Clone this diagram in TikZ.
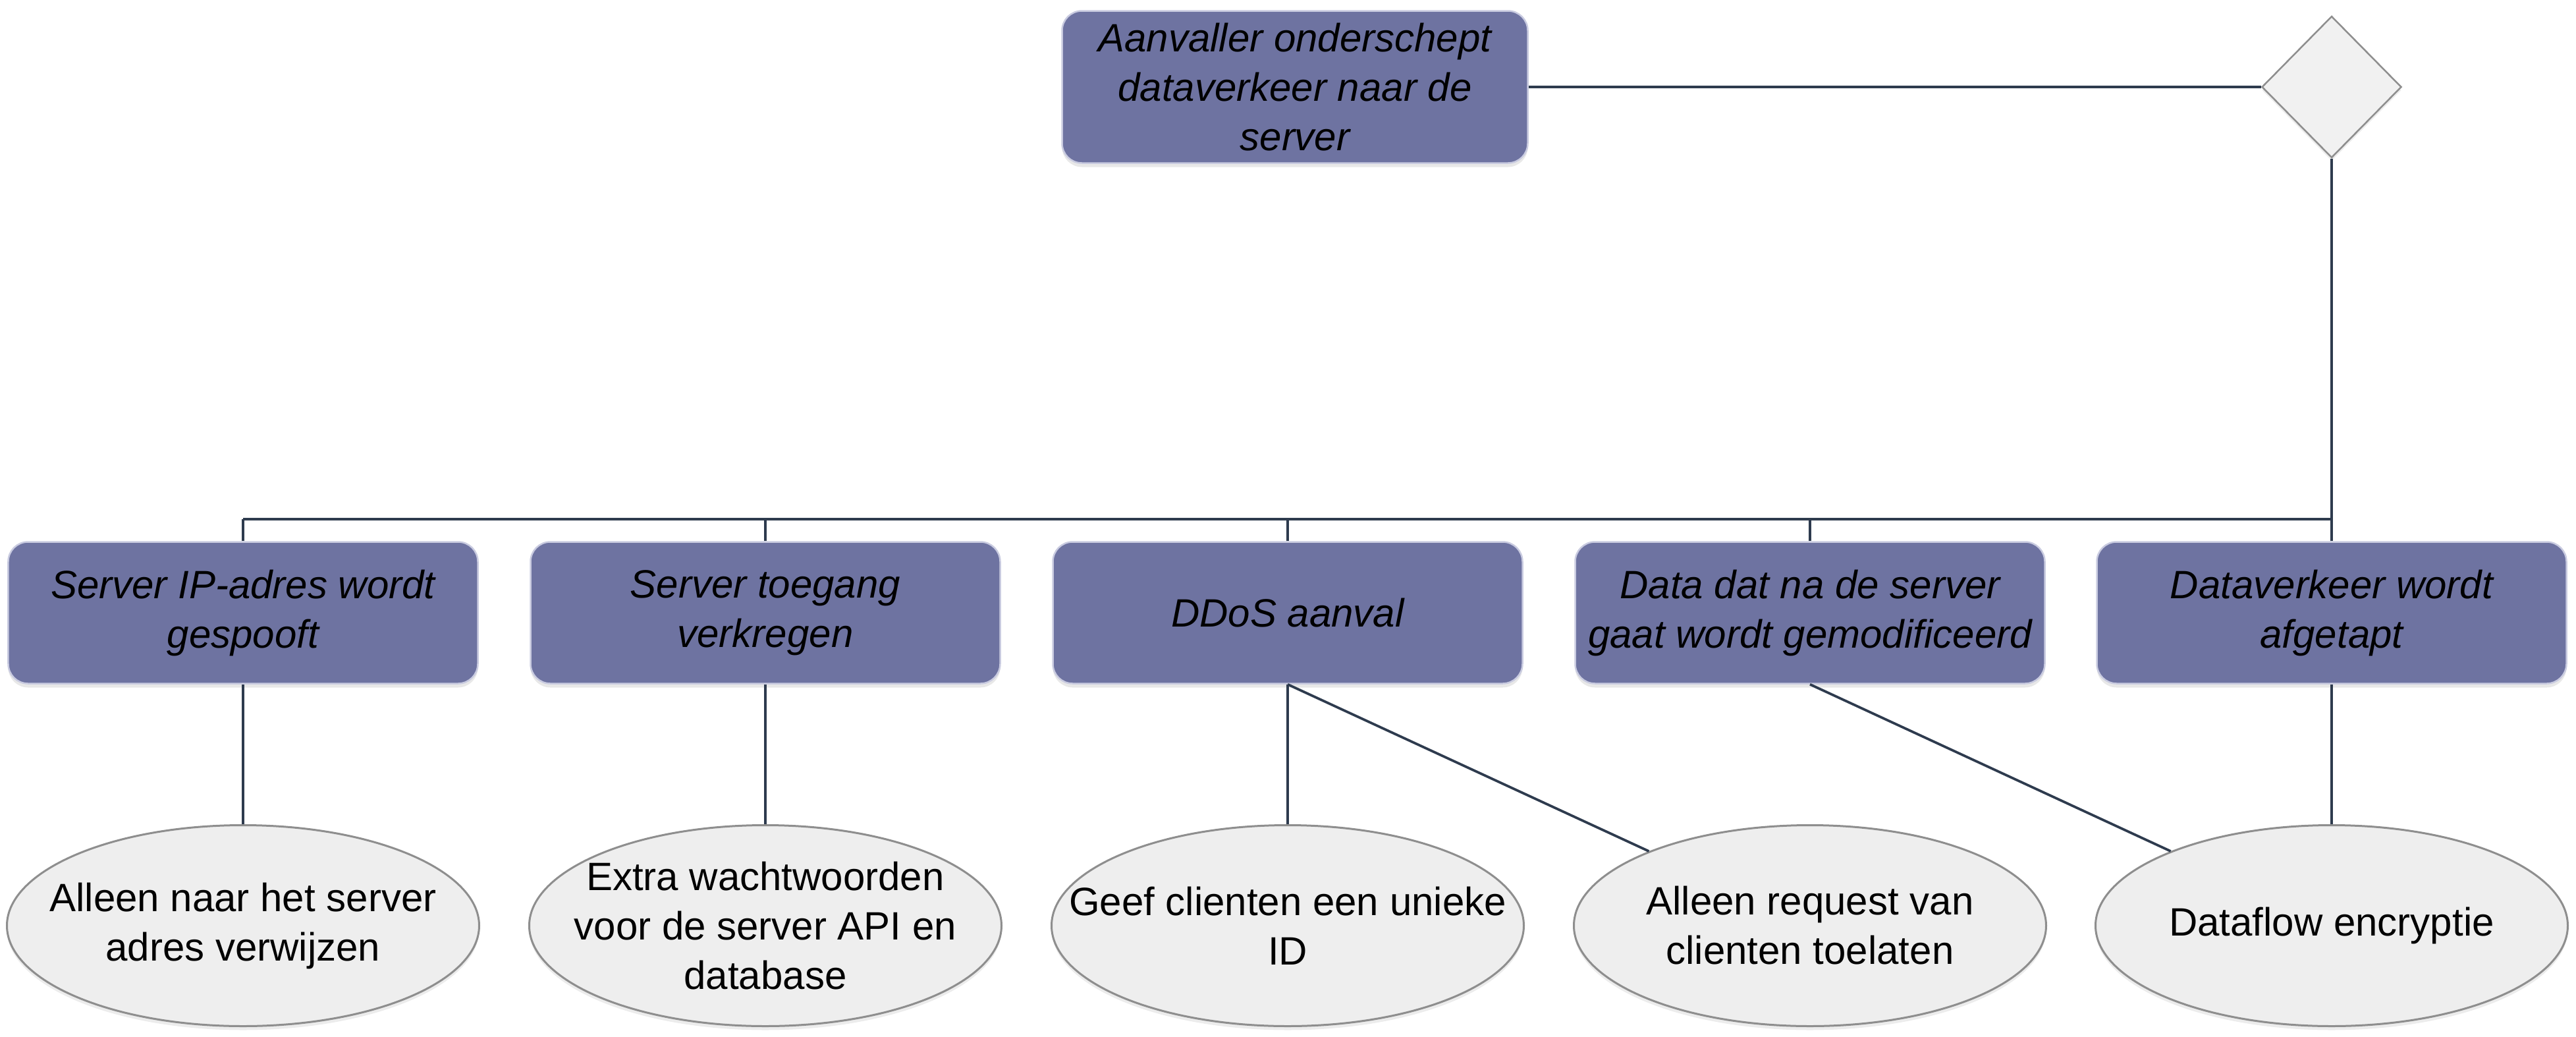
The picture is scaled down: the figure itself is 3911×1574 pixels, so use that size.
\documentclass[tikz,border=0pt]{standalone}
\usepackage{fontspec}
\setmainfont{Liberation Sans}
\usetikzlibrary{shapes.geometric,shadows}
\definecolor{boxcol}{HTML}{6E73A1}
\definecolor{boxedge}{HTML}{C9CBE0}
\definecolor{ellfill}{HTML}{EEEEEE}
\definecolor{elledge}{HTML}{8E8E8E}
\definecolor{linecol}{HTML}{2E3B4E}
\definecolor{diafill}{HTML}{F1F1F1}
\tikzset{
  txt/.style={font=\fontsize{12}{15}\selectfont, align=center, text=black},
  attack/.style={txt, font=\fontsize{12}{15}\selectfont\itshape, rectangle, rounded corners=6pt,
    fill=boxcol, draw=boxedge, line width=0.5pt, minimum width=142.6pt, minimum height=43pt,
    inner sep=0pt, drop shadow={opacity=0.18, shadow xshift=0pt, shadow yshift=-1.2pt}},
  topbox/.style={attack, minimum width=141.4pt, minimum height=46.2pt},
  counter/.style={ellipse, fill=ellfill, draw=elledge, line width=0.6pt,
    minimum width=143.4pt, minimum height=61pt, inner sep=0pt,
    drop shadow={opacity=0.15, shadow xshift=0pt, shadow yshift=-1.2pt}},
  gate/.style={diamond, fill=diafill, draw=elledge, line width=0.5pt, minimum width=42.4pt,
    minimum height=43pt, inner sep=0pt, drop shadow={opacity=0.15, shadow xshift=0pt, shadow yshift=-1pt}},
  conn/.style={draw=linecol, line width=0.75pt}
}
\begin{document}
\begin{tikzpicture}[x=0.2pt,y=-0.2pt]
\useasboundingbox (0,0) rectangle (3911,1574);
% top
\node[topbox] (top) at (1966,132) {Aanvaller onderschept\\dataverkeer naar de\\server};
\node[gate] (dia) at (3540,132) {};
% middle
\node[attack] (b1) at (369,930) {Server IP-adres wordt\\gespooft};
\node[attack] (b2) at (1162,930) {Server toegang\\verkregen};
\node[attack] (b3) at (1955,930) {DDoS aanval};
\node[attack] (b4) at (2748,930) {Data dat na de server\\gaat wordt gemodificeerd};
\node[attack] (b5) at (3540,930) {Dataverkeer wordt\\afgetapt};
% bottom
\node[counter, label={[txt]center:Alleen naar het server\\adres verwijzen}] (e1) at (369,1405) {};
\node[counter, label={[txt]center:Extra wachtwoorden\\voor de server API en\\database}] (e2) at (1162,1405) {};
\node[counter, label={[txt]center:Geef clienten een unieke\\ID}] (e3) at (1955,1405) {};
\node[counter, label={[txt]center:Alleen request van\\clienten toelaten}] (e4) at (2748,1405) {};
\node[counter, label={[txt]center:Dataflow encryptie}] (e5) at (3540,1405) {};
% bus
\coordinate (busL) at (369,788);
\coordinate (busR) at (3540,788);
\draw[conn] (top) -- (dia);
\draw[conn] (dia.south) -- (busR) -- (busL);
\foreach \b in {b1,b2,b3,b4,b5} {
  \draw[conn] (\b.north) -- (\b.north |- busL);
}
\draw[conn] (b1.south) -- (e1.north);
\draw[conn] (b2.south) -- (e2.north);
\draw[conn] (b3.south) -- (e3.north);
\draw[conn] (b3.south) -- (e4);
\draw[conn] (b4.south) -- (e5);
\draw[conn] (b5.south) -- (e5.north);
\end{tikzpicture}
\end{document}
